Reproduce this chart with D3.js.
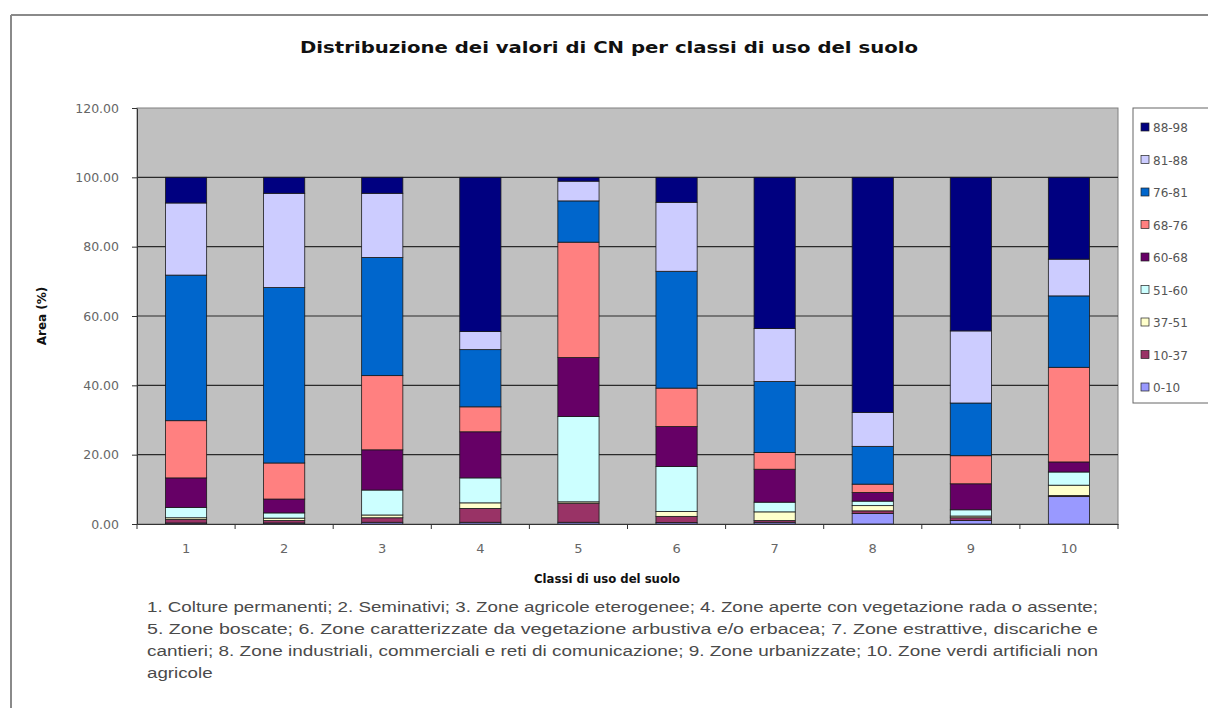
<!DOCTYPE html>
<html>
<head>
<meta charset="utf-8">
<script src="https://cdn.jsdelivr.net/npm/d3@7"></script>
<style>
  html, body { margin: 0; padding: 0; background: #fff; }
  svg { display: block; font-family: "Liberation Sans", Arial, sans-serif; }
</style>
</head>
<body>
<svg id="chart" width="1208" height="708"></svg>
<script>
// ---- data ----
const categories = ["1", "2", "3", "4", "5", "6", "7", "8", "9", "10"];
const seriesNames = ["0-10", "10-37", "37-51", "51-60", "60-68", "68-76", "76-81", "81-88", "88-98"];
const seriesColors = ["#9999FF", "#993366", "#FFFFCC", "#CCFFFF", "#660066", "#FF8080", "#0066CC", "#CCCCFF", "#000080"];
const s0_10  = [0.3, 0.3, 0.5, 0.5, 0.5, 0.4, 0.5, 3.0, 1.0, 7.9];
const s10_37 = [1.0, 0.7, 1.3, 4.0, 5.5, 1.8, 0.5, 0.8, 0.8, 0.3];
const s37_51 = [0.5, 0.7, 0.8, 1.6, 0.4, 1.4, 2.5, 1.5, 0.5, 3.0];
const s51_60 = [3.0, 1.5, 7.2, 7.2, 24.6, 13.0, 2.8, 1.3, 1.8, 3.8];
const s60_68 = [8.5, 4.0, 11.6, 13.3, 17.0, 11.5, 9.5, 2.5, 7.5, 2.9];
const s68_76 = [16.5, 10.4, 21.4, 7.2, 33.3, 11.1, 4.8, 2.4, 8.1, 27.3];
const s76_81 = [42.0, 50.6, 34.1, 16.5, 11.9, 33.7, 20.5, 10.9, 15.2, 20.6];
const s81_88 = [20.8, 27.2, 18.5, 5.2, 5.7, 19.9, 15.3, 9.8, 20.8, 10.6];
const s88_98 = [7.4, 4.6, 4.6, 44.5, 1.1, 7.2, 43.6, 67.8, 44.3, 23.6];
const yTicks = [0, 20, 40, 60, 80, 100, 120];
const titleText = "Distribuzione dei valori di CN per classi di uso del suolo";
const xTitle = "Classi di uso del suolo";
const yTitle = "Area (%)";
const captionLines = [
  "1. Colture permanenti; 2. Seminativi; 3. Zone agricole eterogenee; 4. Zone aperte con vegetazione rada o assente;",
  "5. Zone boscate; 6. Zone caratterizzate da vegetazione arbustiva e/o erbacea; 7. Zone estrattive, discariche e",
  "cantieri; 8. Zone industriali, commerciali e reti di comunicazione; 9. Zone urbanizzate; 10. Zone verdi artificiali non",
  "agricole"
];

const seriesValues = [s0_10, s10_37, s37_51, s51_60, s60_68, s68_76, s76_81, s81_88, s88_98];
const table = categories.map((c, i) => {
  const row = { cat: c };
  seriesNames.forEach((n, k) => row[n] = seriesValues[k][i]);
  return row;
});

// ---- layout ----
const svg = d3.select("#chart");
const plot = { left: 137, right: 1118, top: 108, bottom: 524 };

// outer frame
svg.append("line").attr("x1", 11).attr("x2", 1208).attr("y1", 15).attr("y2", 15)
  .attr("stroke", "#8a8a8a").attr("stroke-width", 2);
svg.append("line").attr("x1", 11).attr("x2", 11).attr("y1", 15).attr("y2", 708)
  .attr("stroke", "#8a8a8a").attr("stroke-width", 2);

const x = d3.scaleBand().domain(categories)
  .range([plot.left, plot.right]).paddingInner(0.58).paddingOuter(0.29);
const y = d3.scaleLinear().domain([0, 120]).range([plot.bottom, plot.top]);

// plot area background
svg.append("rect").attr("x", plot.left).attr("y", plot.top)
  .attr("width", plot.right - plot.left).attr("height", plot.bottom - plot.top)
  .attr("fill", "#C0C0C0").attr("stroke", "#808080").attr("stroke-width", 1);

// gridlines
svg.append("g").selectAll("line").data(yTicks.filter(t => t > 0 && t < 120)).join("line")
  .attr("x1", plot.left).attr("x2", plot.right)
  .attr("y1", d => y(d)).attr("y2", d => y(d))
  .attr("stroke", "#2a2a2a").attr("stroke-width", 1.2);

// stacked bars
const stack = d3.stack().keys(seriesNames);
const layers = stack(table);
svg.append("g").selectAll("g").data(layers).join("g")
  .attr("fill", (d, i) => seriesColors[i])
  .selectAll("rect").data(d => d).join("rect")
  .attr("x", d => x(d.data.cat))
  .attr("width", x.bandwidth())
  .attr("y", d => y(d[1]))
  .attr("height", d => y(d[0]) - y(d[1]))
  .attr("stroke", "#1a1a1a").attr("stroke-width", 0.8);

// y axis
const yAxis = svg.append("g").attr("transform", `translate(${plot.left},0)`)
  .call(d3.axisLeft(y).tickValues(yTicks).tickFormat(d3.format(".2f")).tickSize(5).tickSizeOuter(0));
yAxis.select(".domain").attr("stroke", "#333");
yAxis.selectAll(".tick line").attr("stroke", "#333");
yAxis.selectAll("text").attr("font-size", 12.5).attr("fill", "#666")
  .attr("font-family", "'DejaVu Sans', sans-serif").attr("dx", -10);

// x axis
const xAxis = svg.append("g").attr("transform", `translate(0,${plot.bottom})`)
  .call(d3.axisBottom(x).tickSize(0).tickSizeOuter(0));
xAxis.select(".domain").attr("stroke", "#333");
xAxis.selectAll("text").attr("font-size", 13).attr("fill", "#666")
  .attr("font-family", "'DejaVu Sans', sans-serif").attr("dy", 26);
// tick marks between categories
const step = x.step();
svg.append("g").selectAll("line").data(categories).join("line")
  .attr("x1", d => x(d) - step * 0.29).attr("x2", d => x(d) - step * 0.29)
  .attr("y1", plot.bottom).attr("y2", plot.bottom + 5)
  .attr("stroke", "#333");
svg.append("line").attr("x1", plot.right).attr("x2", plot.right)
  .attr("y1", plot.bottom).attr("y2", plot.bottom + 5).attr("stroke", "#333");

// titles
svg.append("text").attr("x", 609).attr("y", 53).attr("text-anchor", "middle")
  .attr("font-family", "'DejaVu Sans', sans-serif")
  .attr("font-size", 15.5).attr("font-weight", "bold").attr("fill", "#111")
  .attr("textLength", 618).attr("lengthAdjust", "spacingAndGlyphs").text(titleText);
svg.append("text").attr("x", 607).attr("y", 583).attr("text-anchor", "middle")
  .attr("font-family", "'DejaVu Sans', sans-serif")
  .attr("font-size", 13).attr("font-weight", "bold").attr("fill", "#111")
  .attr("textLength", 146).attr("lengthAdjust", "spacingAndGlyphs").text(xTitle);
svg.append("text").attr("transform", "translate(46,316) rotate(-90)").attr("text-anchor", "middle")
  .attr("font-family", "'DejaVu Sans', sans-serif")
  .attr("font-size", 12).attr("font-weight", "bold").attr("fill", "#111").text(yTitle);

// legend
const legend = svg.append("g");
legend.append("rect").attr("x", 1133).attr("y", 108).attr("width", 90).attr("height", 295)
  .attr("fill", "#fff").attr("stroke", "#666").attr("stroke-width", 1);
const legOrder = seriesNames.slice().reverse();
const legColors = seriesColors.slice().reverse();
const legY = d3.scalePoint().domain(legOrder).range([127, 387]);
legend.selectAll("rect.sw").data(legOrder).join("rect").attr("class", "sw")
  .attr("x", 1141).attr("y", d => legY(d) - 4).attr("width", 8).attr("height", 8)
  .attr("fill", (d, i) => legColors[i]).attr("stroke", "#222").attr("stroke-width", 0.7);
legend.selectAll("text").data(legOrder).join("text")
  .attr("x", 1153).attr("y", d => legY(d) + 5)
  .attr("font-family", "'DejaVu Sans', sans-serif")
  .attr("font-size", 12).attr("fill", "#555").text(d => d);

// caption (justified; last line stretched by same factor)
const cap = svg.append("g");
const capWidth = 951;
let stretch = 1;
captionLines.forEach((line, i) => {
  const t = cap.append("text").attr("x", 147).attr("y", 612 + i * 22)
    .attr("font-family", "'Liberation Sans', sans-serif")
    .attr("font-size", 14).attr("fill", "#4a4a4a").text(line);
  const natural = t.node().getComputedTextLength();
  if (i === 0) stretch = capWidth / natural;
  const target = (i < captionLines.length - 1) ? capWidth : natural * stretch;
  t.attr("textLength", target).attr("lengthAdjust", "spacingAndGlyphs");
});
</script>
</body>
</html>
